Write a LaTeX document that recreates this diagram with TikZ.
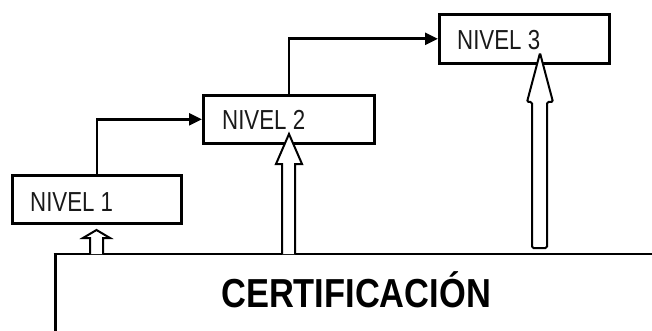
\documentclass[tikz,border=0pt]{standalone}
\usepackage{fontspec}
\setmainfont{Liberation Sans}
\newfontfamily\nivfont[FakeStretch=0.81]{Liberation Sans}
\newfontfamily\certfont[FakeStretch=0.85]{Liberation Sans Bold}
\usetikzlibrary{arrows.meta}
\begin{document}
\begin{tikzpicture}[x=1pt,y=-1pt,
  levelbox/.style={draw,line width=2.6pt,rectangle,inner sep=0pt,anchor=north west},
  nivtext/.style={anchor=base west,inner sep=0pt,font=\nivfont\fontsize{27.5}{28}\selectfont,text=black!90},
  conn/.style={line width=2.6pt,-{Triangle[length=13pt,width=12pt]}},
  hollow/.style={draw,fill=white,line width=2pt,line join=miter},
  baseline/.style={line width=2.6pt}]
\useasboundingbox (0,0) rectangle (652,331);
% base
\draw[line width=3pt] (55,331) -- (55,253);
\draw[baseline] (53.5,254) -- (652,254);
\node[anchor=base west,inner sep=0pt,font=\certfont\fontsize{40.5}{41}\selectfont] (cert) at (221,307) {CERTIFICACIÓN};
% boxes
\node[levelbox,minimum width=169pt,minimum height=48pt] (box1) at (11,174) {};
\node[levelbox,minimum width=171pt,minimum height=48pt] (box2) at (202,94) {};
\node[levelbox,minimum width=170pt,minimum height=49pt] (box3) at (438,13) {};
\node[nivtext] (t1) at (30,211) {NIVEL 1};
\node[nivtext] (t2) at (222,130) {NIVEL 2};
\node[nivtext] (t3) at (457,50) {NIVEL 3};
% connectors
\draw[conn] (box1.north) |- (box2.west);
\draw[conn] (box2.north) |- (box3.west);
% hollow arrows
\draw[hollow] (90,254) -- (90,238) -- (83,238) -- (96.5,230) -- (110,238) -- (103,238) -- (103,254);
\draw[hollow] (282,254) -- (282,164) -- (276,164) -- (289,134) -- (302,164) -- (295,164) -- (295,254);
\draw[hollow,rounded corners=1.5pt] (532,248) -- (532,102) -- (527,102) -- (540,53) -- (553,102) -- (547,102) -- (547,248) -- cycle;
\end{tikzpicture}
\end{document}
